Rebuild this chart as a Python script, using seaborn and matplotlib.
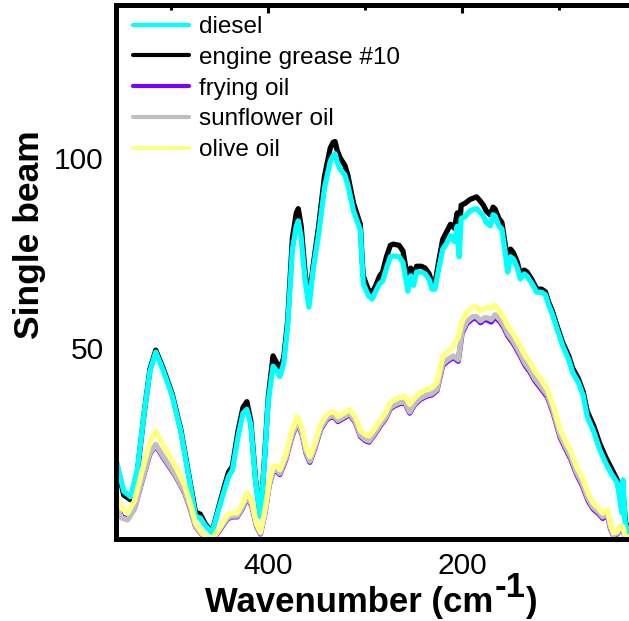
import pandas as pd
import matplotlib
matplotlib.use("Agg")
import matplotlib.pyplot as plt
from matplotlib.lines import Line2D
from matplotlib.ticker import FixedLocator
import seaborn as sns

# wavenumber grid for the two fuel spectra (cm-1)
wn_fuel = [557, 549, 542, 535, 528, 522, 516, 508, 499, 490,
           481, 475, 470, 465, 458, 452, 445, 441, 437, 431,
           426, 422, 418, 413, 408, 404, 400, 395, 391, 388,
           384, 380, 375, 371, 369, 366, 362, 358, 354, 348,
           342, 336, 333, 331, 329, 326, 321, 318, 312, 305,
           303, 302, 297, 293, 289, 285, 282, 278, 274, 271,
           265, 261, 258, 256, 253, 250, 247, 242, 238, 234,
           231, 228, 224, 220, 216, 212, 208, 205, 203, 201,
           197, 192, 187, 185, 181, 178, 175, 171, 168, 166,
           162, 159, 156, 153, 150, 147, 143, 140, 136, 133,
           128, 123, 118, 114, 111, 107, 102, 96, 90, 86,
           80, 75, 71, 64, 58, 52, 47, 44, 40, 37,
           35, 34, 32, 30, 28]

diesel = [20.8, 12.5, 11.1, 18, 33, 44, 49, 44, 37.5, 28,
          15, 6, 5.5, 3.5, 1.6, 7, 13, 16.3, 18, 27,
          33, 34, 30, 15, 5.8, 20, 36, 45.3, 44, 42.6,
          46, 55.8, 76, 82, 83.4, 79, 68, 60.8, 70, 80,
          92, 99, 100.5, 101, 99, 97, 95.5, 93, 86, 81,
          72, 67, 64, 62.9, 65, 67, 67.6, 71, 74, 74.2,
          74, 72.5, 68, 65, 69, 66.5, 70, 70, 69.5, 68,
          65.5, 65.5, 71, 76, 77.5, 79.5, 78, 82, 74, 84,
          84.5, 86, 86.5, 86.6, 85.5, 84.7, 83, 82.1, 85, 84.7,
          82, 81.3, 76, 70, 74, 73.4, 71, 68.2, 69.5, 68.9,
          67, 64.7, 64.7, 64, 61.5, 59, 55, 50.5, 47, 43.7,
          41, 37.5, 32.1, 28, 23.4, 20, 17.5, 16.3, 14.7, 10,
          6.8, 15.5, 5, 0.5, 3]

engine_grease = [20.5, 11.5, 10.3, 17.5, 33, 44.5, 49.5, 44.5, 38, 28.5,
                 15.5, 7, 6.5, 4, 1.8, 7.5, 14, 17.5, 19, 28.5,
                 34.5, 36, 31, 15.5, 6, 20.5, 37, 48, 46, 44.5,
                 47.5, 57, 79, 85.5, 86.6, 82, 70, 62, 71, 82,
                 95, 102.5, 104, 104.2, 102, 100, 98, 95.5, 88, 82.5,
                 73, 69, 65.5, 64.5, 66.5, 69, 70, 74, 77, 77.3,
                 77, 75.5, 71, 68, 71, 69, 71.5, 71.5, 71, 69.5,
                 67, 67, 73, 78.5, 80.5, 82.5, 81.5, 85.5, 80, 87.5,
                 88, 89, 89.5, 89.7, 88.5, 87.5, 86, 85, 87, 86.5,
                 84, 83, 78, 72.5, 76, 75, 72.5, 69.5, 70.5, 70,
                 68, 65.5, 65.5, 64.8, 62.3, 59.8, 55.8, 51.3, 48, 44.8,
                 42, 38.5, 33.5, 29.5, 25, 21.5, 19, 17.5, 15.5, 11,
                 7, 12, 6, 1.5, 3.5]

# wavenumber grid for the three edible oils
wn_oil = [557, 551, 545, 538, 530, 522, 516, 508, 500, 494,
          486, 480, 475, 468, 462, 457, 450, 442, 437, 432,
          427, 422, 417, 412, 408, 403, 399, 395, 391, 388,
          382, 376, 370, 365, 361, 357, 352, 346, 340, 336,
          332, 328, 322, 316, 310, 305, 300, 296, 290, 284,
          279, 274, 269, 264, 259, 254, 249, 243, 237, 231,
          226, 220, 215, 209, 204, 200, 195, 189, 185, 181,
          177, 174, 170, 166, 161, 157, 153, 147, 140, 135,
          130, 125, 120, 112, 106, 99, 94, 88, 82, 76,
          70, 65, 59, 55, 50, 47, 44, 40, 37, 34,
          32, 30, 28]

frying_oil = [9.5, 5.8, 5.2, 8, 15.3, 22.3, 24.5, 21.2, 18.2, 15.8,
              12, 7.6, 3.3, 1, 0.2, 0, 2.3, 5.3, 5.8, 5.8,
              7.8, 10.6, 8.8, 3.3, 1.3, 7.2, 14, 17.7, 17.7, 16.9,
              20.7, 26.5, 30.5, 27.4, 22.5, 20.1, 23.7, 28.7, 31.2, 31.9,
              31.9, 30.8, 31.7, 32.6, 30.5, 26.9, 25.8, 25.4, 27.5, 29.8,
              31.5, 34.2, 35, 35.5, 35.6, 33, 35.2, 36.6, 37.4, 37.8,
              38.9, 45.5, 46.6, 47.6, 46.6, 54, 56.5, 57.8, 57.8, 56.7,
              57.5, 57.4, 56.9, 58.2, 57, 55.5, 53.3, 51.2, 48, 45.5,
              43.8, 41.5, 39.9, 37.2, 33, 26.7, 24, 21, 17, 14,
              10, 7.9, 6.6, 5.4, 6.2, 2.7, 0.9, 1.3, 2.7, 2.5,
              0.5, 0, 0.3]

sunflower_oil = [8.6, 5.5, 5, 8, 15.5, 22.5, 24.8, 21.5, 18.5, 16,
                 12.2, 7.8, 3.4, 1.1, 0.3, 0.1, 2.5, 5.5, 6, 6,
                 8, 10.9, 9, 3.5, 1.5, 7.4, 14.2, 18, 18, 17.2,
                 21, 26.8, 30.8, 27.7, 22.8, 20.4, 24, 29, 31.5, 32.2,
                 32.2, 31.1, 32, 32.9, 30.8, 27.2, 26.1, 25.7, 27.8, 30.1,
                 31.8, 34.5, 35.3, 35.8, 35.9, 33.3, 35.5, 36.9, 37.7, 38.1,
                 39.2, 45.9, 47, 48, 47, 54.5, 57, 58.3, 58.3, 57.2,
                 58, 58, 57.5, 58.8, 57.5, 56, 53.8, 51.7, 48.5, 46,
                 44.3, 42, 40.4, 37.7, 33.5, 27.2, 24.5, 21.5, 17.5, 14.5,
                 10.5, 8.3, 7, 5.8, 6.6, 3, 1.1, 1.5, 3, 2.7,
                 0.7, 0, 0.5]

olive_oil = [11.6, 8, 6.8, 10, 18, 25.5, 28.2, 24.5, 21, 18.2,
             14, 9, 4.2, 1.5, 0.5, 0.3, 3, 6.3, 6.8, 6.8,
             9, 12.1, 10, 4, 1.8, 8, 15, 19, 19, 18.2,
             22, 28, 32.1, 29, 24, 21.6, 25, 30, 32.5, 33.2,
             33.4, 32.1, 33, 33.9, 32, 28.5, 27.4, 27, 29, 31.3,
             33, 35.8, 36.6, 37.2, 37.4, 35.3, 37, 38.4, 39.2, 39.7,
             41, 47.9, 49, 50.5, 53, 57, 59.5, 60.8, 60.8, 59.7,
             60.5, 60.8, 60.5, 61.3, 59.5, 58, 55.8, 53.7, 50.5, 48,
             46.3, 44, 42.4, 39.2, 35, 28.7, 26, 23, 19, 16,
             12, 9.5, 8, 6.8, 7.6, 4, 1.6, 2, 3.5, 3.2,
             1, 0, 0.5]

legend_order = ["diesel", "engine grease #10", "frying oil", "sunflower oil", "olive oil"]
draw_order = ["engine grease #10", "diesel", "frying oil", "sunflower oil", "olive oil"]
colors = {"diesel": "#00ffff", "engine grease #10": "#000000", "frying oil": "#7a00ff",
          "sunflower oil": "#bfbfbf", "olive oil": "#ffff80"}

series = {"diesel": (wn_fuel, diesel), "engine grease #10": (wn_fuel, engine_grease),
          "frying oil": (wn_oil, frying_oil), "sunflower oil": (wn_oil, sunflower_oil),
          "olive oil": (wn_oil, olive_oil)}
df = pd.concat([pd.DataFrame({"wavenumber": w, "beam": v, "sample": k})
                for k, (w, v) in series.items()], ignore_index=True)

sns.set_style("white")
plt.rcParams["font.family"] = ["Liberation Sans", "DejaVu Sans"]
plt.rcParams["text.color"] = "black"
plt.rcParams["xtick.color"] = "black"
plt.rcParams["ytick.color"] = "black"
plt.rcParams["axes.labelcolor"] = "black"

fig = plt.figure(figsize=(6.29, 6.21), dpi=100)
ax = fig.add_axes([116 / 629, 82 / 621, 540 / 629, 534 / 621])

sns.lineplot(data=df, x="wavenumber", y="beam", hue="sample", hue_order=draw_order,
             palette=colors, linewidth=3.8, estimator=None, legend=False, ax=ax)

ax.set_xlim(557, 0)
ax.set_ylim(0, 140)
ax.set_xticks([400, 200])
ax.xaxis.set_minor_locator(FixedLocator([500, 300, 100]))
ax.set_yticks([50, 100])
ax.yaxis.set_minor_locator(FixedLocator([25, 75, 125]))
ax.tick_params(which="both", direction="in", top=True, right=True,
               color="black", labelcolor="black", width=2.2)
ax.tick_params(which="major", length=6, labelsize=21.5, pad=9)
ax.tick_params(which="minor", length=3.5)
ax.set_xlabel("")
ax.set_ylabel("")
for sp in ax.spines.values():
    sp.set_linewidth(3.6)
    sp.set_color("black")

handles = [Line2D([], [], color=colors[n], linewidth=3) for n in legend_order]
ax.legend(handles, legend_order, loc="upper left", bbox_to_anchor=(133 / 629, 1 - 16 / 621),
          bbox_transform=fig.transFigure, frameon=False, fontsize=17.5, borderpad=0,
          borderaxespad=0, handlelength=2.3, handletextpad=0.4, labelspacing=0.36,
          labelcolor="black")

# axis titles (superscript drawn at full size like the original)
fig.text(30 / 629, 1 - 235 / 621, "Single beam", rotation=90, ha="center", va="center",
         fontsize=25.5, fontweight="bold", color="black")
t1 = fig.text(205 / 629, (621 - 612) / 621, "Wavenumber (cm", ha="left", va="baseline",
              fontsize=25, fontweight="bold", color="black")
fig.canvas.draw()
bb = t1.get_window_extent()
t2 = fig.text(bb.x1 / 629 + 1 / 629, (621 - 597) / 621, "-1", ha="left", va="baseline",
              fontsize=25, fontweight="bold", color="black")
fig.canvas.draw()
bb2 = t2.get_window_extent()
fig.text(bb2.x1 / 629 + 1 / 629, (621 - 612) / 621, ")", ha="left", va="baseline",
         fontsize=25, fontweight="bold", color="black")

fig.savefig("out.png", dpi=100)
